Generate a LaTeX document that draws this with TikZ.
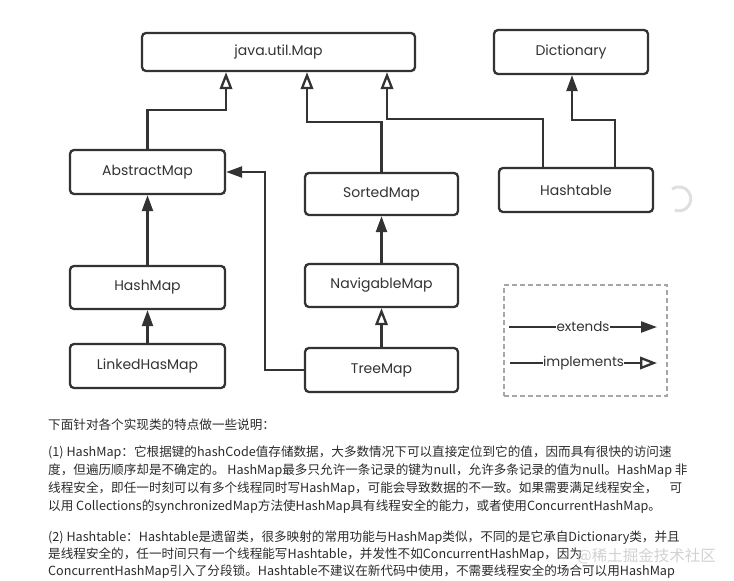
\documentclass[tikz,border=0pt]{standalone}
\usepackage{fontspec}
\usetikzlibrary{arrows.meta,calc}
\newfontfamily\boxfont{Poppins}
\newfontfamily\cjk{Noto Sans CJK SC}
\definecolor{ink}{HTML}{333333}
\definecolor{txt}{HTML}{2A2A2A}
\begin{document}
\begin{tikzpicture}[x=1pt,y=1pt,
  cls/.style={draw=ink, line width=2.3pt, rounded corners=4pt, fill=white,
    inner sep=0pt, font=\boxfont\fontsize{14}{16}\selectfont, text=ink},
  ext/.style={draw=ink, line width=2.3pt, -{Triangle[length=16pt,width=11pt]}},
  impl/.style={draw=ink, line width=2.3pt, -{Triangle[open,length=17pt,width=12.5pt,fill=white]}},
  para/.style={anchor=west, inner sep=0pt, text=txt, font=\cjk\fontsize{12.6}{15}\selectfont},
  leglab/.style={fill=white, inner sep=0.5pt, text=ink, font=\boxfont\fontsize{13.5}{15}\selectfont},
  legbox/.style={draw=gray!70, dashed, dash pattern=on 5pt off 3pt, line width=2pt, inner sep=0pt}
]
\useasboundingbox (0,0) rectangle (734,-581);

% classes
\node[cls, minimum width=273pt, minimum height=38pt] (map) at (278.5,-52) {java.util.Map};
\node[cls, minimum width=154pt, minimum height=44pt] (dict) at (571,-52) {Dictionary};
\node[cls, minimum width=155pt, minimum height=44pt] (abs) at (147.5,-172) {AbstractMap};
\node[cls, minimum width=153pt, minimum height=42pt] (sorted) at (381.5,-194) {SortedMap};
\node[cls, minimum width=154pt, minimum height=44pt] (ht) at (576,-190) {Hashtable};
\node[cls, minimum width=155pt, minimum height=43pt] (hm) at (147.5,-287.5) {HashMap};
\node[cls, minimum width=155pt, minimum height=44pt] (lhm) at (147.5,-366) {LinkedHasMap};
\node[cls, minimum width=153pt, minimum height=43pt] (nav) at (381.5,-285.5) {NavigableMap};
\node[cls, minimum width=153pt, minimum height=44pt] (tree) at (381.5,-370) {TreeMap};

% bend points
\coordinate (b1) at (226,-110);
\coordinate (b2) at (307,-122);
\coordinate (h1) at (543,-119);
\coordinate (b3) at (387,-119);
\coordinate (h2) at (615,-120);
\coordinate (b4) at (572,-120);
\coordinate (t1) at (265,-172);

% connectors
\draw[impl] (abs.north) |- (b1) -- (b1 |- map.south);
\draw[impl] (sorted.north) |- (b2) -- (b2 |- map.south);
\draw[impl] (h1 |- ht.north) -- (h1) -- (b3) -- (b3 |- map.south);
\draw[ext] (h2 |- ht.north) -- (h2) -- (b4) -- (b4 |- dict.south);
\draw[ext] (tree.west) -| (t1) -- (abs.east);
\draw[ext] (hm.north) -- (abs.south);
\draw[ext] (lhm.north) -- (hm.south);
\draw[ext] (nav.north) -- (sorted.south);
\draw[impl] (tree.north) -- (nav.south);

% legend
\node[legbox, minimum width=163pt, minimum height=111pt] (leg) at (585.5,-340.5) {};
\coordinate (e1) at (509,-327);
\coordinate (e2) at (657,-327);
\coordinate (i1) at (510,-363);
\coordinate (i2) at (657,-363);
\draw[ext] (e1) -- node[leglab] (lext) {extends} (e2);
\draw[impl] (i1) -- node[leglab] (limp) {implements} (i2);

% spinner artefact
\draw[gray!25, line width=3pt] (672,-189) arc[start angle=125, end angle=-110, radius=12];

% text
\node[para] (t0) at (48,-425) {下面针对各个实现类的特点做一些说明：};
\node[para] (p1a) at (48,-453) {(1) HashMap：它根据键的hashCode值存储数据，大多数情况下可以直接定位到它的值，因而具有很快的访问速};
\node[para] (p1b) at (48,-471) {度，但遍历顺序却是不确定的。 HashMap最多只允许一条记录的键为null，允许多条记录的值为null。HashMap 非};
\node[para] (p1c) at (48,-489) {线程安全，即任一时刻可以有多个线程同时写HashMap，可能会导致数据的不一致。如果需要满足线程安全，\hspace{12pt}可};
\node[para] (p1d) at (48,-507) {以用 Collections的synchronizedMap方法使HashMap具有线程安全的能力，或者使用ConcurrentHashMap。};
\node[para] (p2a) at (48,-538) {(2) Hashtable：Hashtable是遗留类，很多映射的常用功能与HashMap类似，不同的是它承自Dictionary类，并且};
\node[para] (p2b) at (48,-555) {是线程安全的，任一时间只有一个线程能写Hashtable，并发性不如ConcurrentHashMap，因为};
\node[para] (p2c) at (48,-572) {ConcurrentHashMap引入了分段锁。Hashtable不建议在新代码中使用，不需要线程安全的场合可以用HashMap};

% watermark
\node[anchor=east, inner sep=0pt, text=gray!45, opacity=0.8, font=\cjk\fontsize{15.5}{17}\selectfont] (wm) at (716,-556) {@稀土掘金技术社区};
\end{tikzpicture}
\end{document}
